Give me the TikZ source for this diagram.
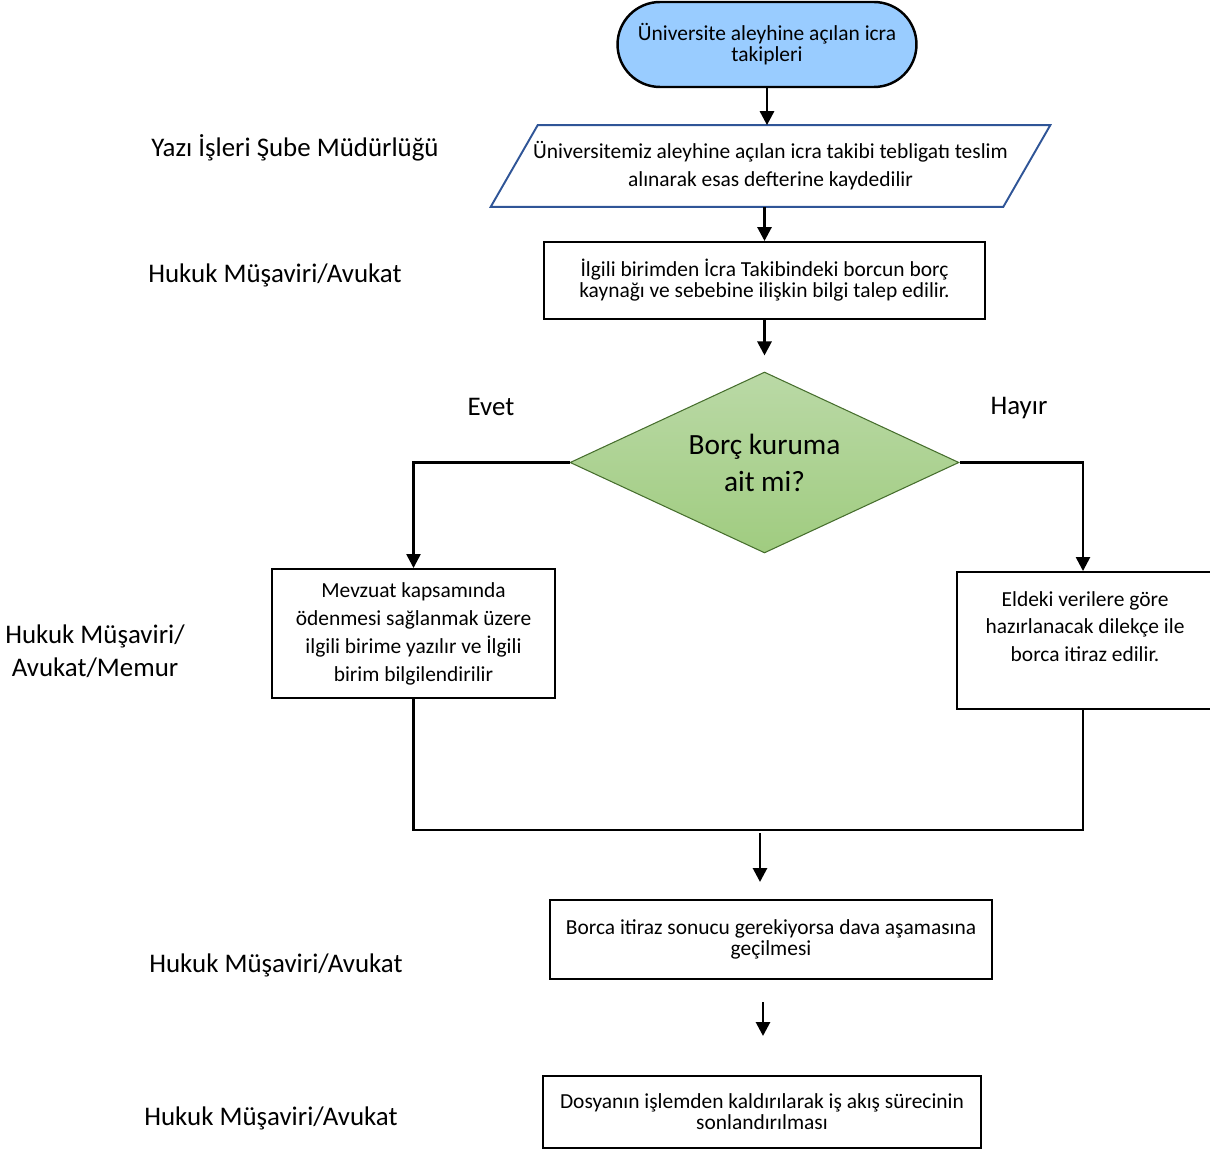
\documentclass[tikz,border=0pt]{standalone}
\usepackage{fontspec}
\setmainfont{Carlito}
\usetikzlibrary{arrows.meta,shapes.geometric}
\definecolor{termblue}{RGB}{153,204,255}
\definecolor{ioblue}{RGB}{47,85,151}
\definecolor{dectop}{RGB}{186,217,166}
\definecolor{decbottom}{RGB}{160,204,128}
\definecolor{decline}{RGB}{70,110,45}
\tikzset{
    every node/.style={align=center,},
    terminal/.style={draw,line width=1.4pt,fill=termblue,rounded corners=0.85cm,
        minimum width=5.98cm,minimum height=1.7cm,inner sep=0pt,font=\fontsize{12.2}{11.9}\selectfont},
    process/.style={draw,rectangle,line width=1.1pt,inner sep=0pt,font=\fontsize{12.2}{11.9}\selectfont},
    tallprocess/.style={process,font=\fontsize{12.2}{15.9}\selectfont},
    decision/.style={diamond,aspect=2.15,draw=decline,line width=0.6pt,top color=dectop,bottom color=decbottom,
        minimum width=7.78cm,minimum height=3.62cm,inner sep=0pt,font=\fontsize{16.7}{21}\selectfont},
    lane/.style={font=\fontsize{15.3}{18.7}\selectfont},
    flow/.style={line width=1.6pt,-{Triangle[width=0.28cm,length=0.28cm]}},
    line/.style={line width=1.3pt},
}

\begin{document}
\begin{tikzpicture}[x=0.02cm,y=-0.02cm]
        \useasboundingbox (0,0) rectangle (1210,1151);

        \node[terminal] (start) at (767,44.5) {Üniversite aleyhine açılan icra\\takipleri};

        \node[font=\fontsize{12.2}{15.9}\selectfont,minimum width=10.24cm,minimum height=1.62cm,inner sep=0pt]
            (tebligat) at (770.5,166) {Üniversitemiz aleyhine açılan icra takibi tebligatı teslim\\alınarak esas defterine kaydedilir};
        \draw[ioblue,line width=1.1pt] ([xshift=0.47cm]tebligat.north west) -- ([xshift=0.47cm]tebligat.north east)
            -- ([xshift=-0.47cm]tebligat.south east) -- ([xshift=-0.47cm]tebligat.south west) -- cycle;

        \node[process,minimum width=8.82cm,minimum height=1.54cm] (bilgi) at (764.5,280.5)
            {İlgili birimden İcra Takibindeki borcun borç\\kaynağı ve sebebine ilişkin bilgi talep edilir.};

        \node[decision] (borc) at (764.5,462.5) {Borç kuruma\\ait mi?};

        \node[tallprocess,minimum width=5.66cm,minimum height=2.58cm] (mevzuat) at (413.5,633.5)
            {Mevzuat kapsamında\\ödenmesi sağlanmak üzere\\ilgili birime yazılır ve İlgili\\birim bilgilendirilir};
        \node[tallprocess,minimum width=5.12cm,minimum height=2.74cm] (itiraz) at (1085,640.5)
            {Eldeki verilere göre\\hazırlanacak dilekçe ile\\borca itiraz edilir.\\\mbox{}};

        \node[process,minimum width=8.84cm,minimum height=1.58cm] (dava) at (771,939.5)
            {Borca itiraz sonucu gerekiyorsa dava aşamasına\\geçilmesi};
        \node[process,minimum width=8.76cm,minimum height=1.44cm] (son) at (762,1112)
            {Dosyanın işlemden kaldırılarak iş akış sürecinin\\sonlandırılması};

        % swimlane labels
        \node[lane] (lane1) at (295,148) {Yazı İşleri Şube Müdürlüğü};
        \node[lane] (lane2) at (275,275) {Hukuk Müşaviri/Avukat};
        \node[lane] (lane3) at (95,651) {Hukuk Müşaviri/\\Avukat/Memur};
        \node[lane] (lane4) at (276,965) {Hukuk Müşaviri/Avukat};
        \node[lane] (lane5) at (271,1118) {Hukuk Müşaviri/Avukat};

        \node[lane] (evet) at (491,407) {Evet};
        \node[lane] (hayir) at (1019,408) {Hayır};

        \coordinate (join) at (760,830);
        \coordinate (joinend) at (760,882);
        \coordinate (davaend) at (763,1002);
        \coordinate (sonend) at (763,1036);

        \draw[flow] (start) to (start.south |- tebligat.north);
        \draw[flow] (tebligat.south -| bilgi.north) to (bilgi.north);
        \draw[flow] (bilgi.south) to ([yshift=0.32cm]borc.north);

        \draw[flow,line width=1.4pt] (borc.west) -| (mevzuat.north);
        \draw[flow,line width=1.4pt] (borc.east) -| ([xshift=-0.04cm]itiraz.north);

        \draw[line] (mevzuat.south) |- (join) -| ([xshift=-0.04cm]itiraz.south);
        \draw[flow] ([yshift=-0.06cm]join) to (joinend);
        \draw[flow] (davaend) to (sonend);
    \end{tikzpicture}
\end{document}
